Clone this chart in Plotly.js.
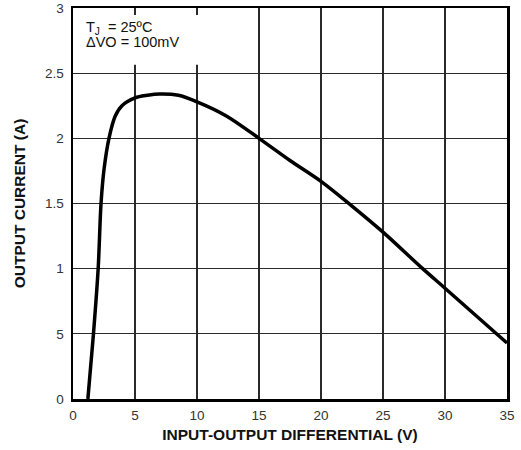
<!DOCTYPE html>
<html>
<head>
<meta charset="utf-8">
<script src="https://cdn.plot.ly/plotly-3.0.1.min.js"></script>
<style>html,body{margin:0;padding:0;background:#fff;}#chart{width:521px;height:450px;}</style>
</head>
<body>
<div id="chart"></div>
<script>
// Data
var differentialV = [1.2, 1.65, 2.03, 2.26, 2.5, 2.9, 3.4, 3.95, 5, 6, 7, 8.5, 10, 12.4, 15, 17.5, 20, 22.5, 25, 28.2, 30, 35];
var outputCurrentA = [0, 0.5, 1.0, 1.5, 1.76, 2.0, 2.17, 2.25, 2.31, 2.33, 2.34, 2.33, 2.28, 2.17, 2.0, 1.83, 1.67, 1.48, 1.28, 1.0, 0.85, 0.43];
var yTickVals = [0, 0.5, 1, 1.5, 2, 2.5, 3];
var yTickText = ["0", "5", "1", "1.5", "2", "2.5", "3"];
var xTickVals = [0, 5, 10, 15, 20, 25, 30, 35];
var noteLines = ["T<sub>J</sub>  = 25ºC", "ΔVO = 100mV"];

var FONT = "Liberation Sans, Arial, Helvetica, sans-serif";

var trace = {
  x: differentialV,
  y: outputCurrentA,
  type: "scatter",
  mode: "lines",
  line: {color: "#000", width: 3.5, shape: "spline", smoothing: 0.9},
  hoverinfo: "skip"
};

var layout = {
  width: 521,
  height: 450,
  margin: {l: 73, r: 14, t: 8, b: 51},
  paper_bgcolor: "#fff",
  plot_bgcolor: "#fff",
  showlegend: false,
  font: {family: FONT, color: "#222", size: 13},
  xaxis: {
    range: [0, 35],
    tickvals: xTickVals,
    ticktext: xTickVals.map(String),
    showgrid: true,
    gridcolor: "#2a2a2a",
    gridwidth: 1.3,
    zeroline: false,
    showline: true,
    linecolor: "#000",
    linewidth: 2.5,
    mirror: "ticks",
    ticks: "inside",
    ticklen: 6,
    tickwidth: 1.3,
    tickcolor: "#2a2a2a",
    tickfont: {family: FONT, size: 13.5, color: "#333"},
    ticklabelstandoff: 2,
    title: {text: "INPUT-OUTPUT DIFFERENTIAL (V)", font: {family: FONT, size: 15.5, color: "#111", weight: "bold"}, standoff: 8}
  },
  yaxis: {
    range: [0, 3],
    tickvals: yTickVals,
    ticktext: yTickText,
    showgrid: true,
    gridcolor: "#2a2a2a",
    gridwidth: 1.3,
    zeroline: false,
    showline: true,
    linecolor: "#000",
    linewidth: 2.5,
    mirror: "ticks",
    ticks: "inside",
    ticklen: 6,
    tickwidth: 1.3,
    tickcolor: "#2a2a2a",
    tickfont: {family: FONT, size: 13.5, color: "#333"},
    ticklabelstandoff: 4,
    title: {text: "OUTPUT CURRENT (A)", font: {family: FONT, size: 15.5, color: "#111", weight: "bold"}, standoff: 16}
  },
  shapes: [{
    type: "rect",
    layer: "above",
    xref: "paper", yref: "paper",
    x0: 0.006, x1: 0.33, y0: 0.855, y1: 0.982,
    fillcolor: "#fff",
    line: {width: 0}
  }],
  annotations: [
    {xref: "paper", yref: "paper", x: 0.026, y: 0.948, xanchor: "left", yanchor: "middle",
     text: noteLines[0], showarrow: false, font: {family: FONT, size: 14.5, color: "#111"}},
    {xref: "paper", yref: "paper", x: 0.026, y: 0.912, xanchor: "left", yanchor: "middle",
     text: noteLines[1], showarrow: false, font: {family: FONT, size: 14.5, color: "#111"}}
  ]
};

Plotly.newPlot("chart", [trace], layout, {displayModeBar: false, staticPlot: true});
</script>
</body>
</html>
